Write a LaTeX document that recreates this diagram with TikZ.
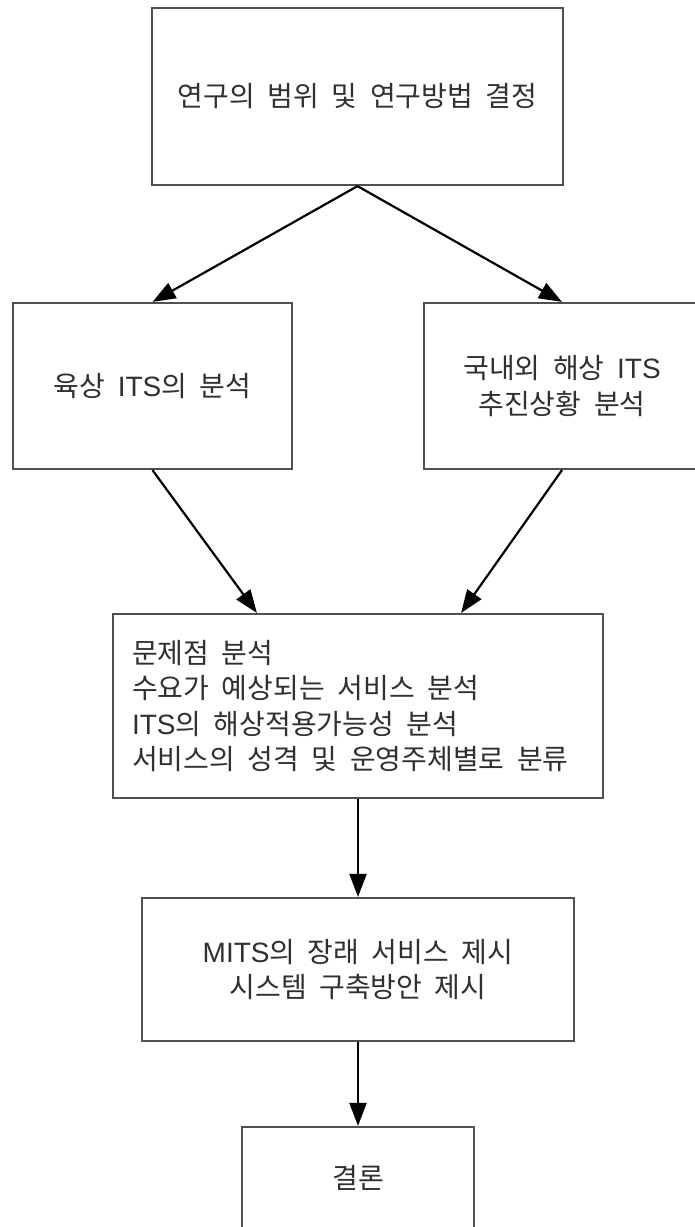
\documentclass[tikz,border=0pt]{standalone}
\usepackage{fontspec}
\setmainfont{Noto Sans CJK KR}[WordSpace=2]
\newfontfamily\lat{Liberation Sans}
\usetikzlibrary{arrows.meta}
\definecolor{txt}{HTML}{303030}
\definecolor{boxline}{HTML}{505050}
\tikzset{
  box/.style={draw=boxline, line width=2.2pt, rectangle, inner sep=0pt, fill=none},
  lbl/.style={text=txt, font=\fontsize{28}{35.5}\selectfont, inner sep=0pt},
  arr/.style={draw=black, line width=2.2pt, -{Triangle[length=23pt,width=17pt]}}
}
\begin{document}
\begin{tikzpicture}[x=1pt,y=-1pt]
\useasboundingbox (0,0) rectangle (695,1227);
\clip (0,0) rectangle (695,1227);
\fill[white] (0,0) rectangle (695,1227);
\node[box, minimum width=411pt, minimum height=177pt] (top) at (357.5,96.5) {};
\node[lbl] (toptext) at (top.center) {연구의 범위 및 연구방법 결정};
\node[box, minimum width=279pt, minimum height=166pt] (left) at (152.5,386) {};
\node[lbl] (lefttext) at (left.center) {육상 {\lat ITS}의 분석};
\node[box, minimum width=276pt, minimum height=166pt] (right) at (562,386) {};
\node[lbl, align=center] (righttext) at (right.center) {국내외 해상 {\lat ITS}\\추진상황 분석};
\node[box, minimum width=490pt, minimum height=184pt] (mid) at (358,706) {};
\node[lbl, align=left, anchor=west] (midtext) at ([xshift=20pt]mid.west) {문제점 분석\\수요가 예상되는 서비스 분석\\{\lat ITS}의 해상적용가능성 분석\\서비스의 성격 및 운영주체별로 분류};
\node[box, minimum width=432pt, minimum height=143pt] (prop) at (358,969.5) {};
\node[lbl, align=center] (proptext) at (prop.center) {{\lat MITS}의 장래 서비스 제시\\시스템 구축방안 제시};
\node[box, minimum width=232pt, minimum height=113pt] (concl) at (358,1183.5) {};
\node[lbl] (concltext) at (358,1178) {결론};
\draw[arr] (top.south) -- (left.north);
\draw[arr] (top.south) -- (right.north);
\draw[arr] (left.south) -- ([xshift=145pt]mid.north west);
\draw[arr] (right.south) -- ([xshift=-143pt]mid.north east);
\draw[arr] (mid.south) -- (prop.north);
\draw[arr] (prop.south) -- (concl.north);
\end{tikzpicture}
\end{document}
